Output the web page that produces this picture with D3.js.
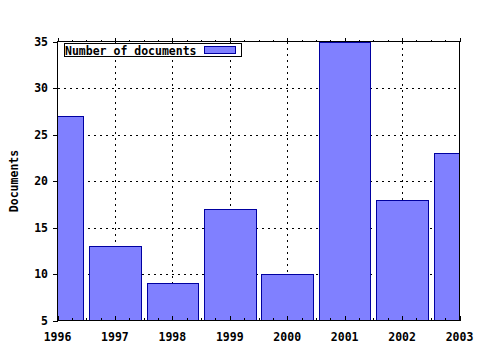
<!DOCTYPE html>
<html><head><meta charset="utf-8">
<script src="https://cdn.jsdelivr.net/npm/d3@7"></script>
<style>
html,body{margin:0;padding:0;background:#fff;}
text{font-family:"DejaVu Sans Mono",monospace;font-weight:bold;font-size:11.5px;fill:#000;}
</style></head>
<body>
<svg id="c" width="480" height="350"></svg>
<script>
const years = [1996, 1997, 1998, 1999, 2000, 2001, 2002, 2003];
const documents = [27, 13, 9, 17, 10, 35, 18, 23];
const yTicks = [5, 10, 15, 20, 25, 30, 35];
const seriesName = "Number of documents";
const yTitle = "Documents";

const svg = d3.select("#c");
const L = 57.5, R = 459.5, T = 41.5, B = 320.5;
const x = d3.scaleLinear().domain([1996, 2003]).range([L, R]);
const y = d3.scaleLinear().domain([5, 35]).range([B, T]);
const barW = 0.9;

svg.append("clipPath").attr("id", "clip").append("rect")
  .attr("x", L).attr("y", T).attr("width", R - L).attr("height", B - T);

// grid
const g = svg.append("g").attr("stroke", "#000").attr("stroke-dasharray", "2,4").attr("shape-rendering", "crispEdges");
years.slice(1, -1).forEach(v => g.append("line").attr("x1", Math.round(x(v)) + 0.5).attr("x2", Math.round(x(v)) + 0.5).attr("y1", T).attr("y2", B));
yTicks.slice(1, -1).forEach(v => g.append("line").attr("y1", Math.round(y(v)) + 0.5).attr("y2", Math.round(y(v)) + 0.5).attr("x1", L).attr("x2", R));

// bars
svg.append("g").attr("clip-path", "url(#clip)")
  .selectAll("rect").data(years).join("rect")
  .attr("x", (d) => Math.round(x(d - barW / 2)) + 0.5)
  .attr("width", (d) => Math.round(x(d + barW / 2)) - Math.round(x(d - barW / 2)))
  .attr("y", (d, i) => Math.round(y(documents[i])) + 0.5)
  .attr("height", (d, i) => Math.round(y(5)) - Math.round(y(documents[i])))
  .attr("fill", "#8080ff").attr("stroke", "#0000a0").attr("stroke-width", 1)
  .attr("shape-rendering", "crispEdges");

// ticks
const tk = svg.append("g").attr("stroke", "#000").attr("shape-rendering", "crispEdges");
const minor = d3.range(0, 7 * 4 + 1).map(i => 1996 + i / 4);
minor.forEach((v, i) => {
  const px = Math.round(x(v)) + 0.5;
  const len = (i % 4 === 0) ? 5 : 3;
  tk.append("line").attr("x1", px).attr("x2", px).attr("y1", B).attr("y2", B - len);
  tk.append("line").attr("x1", px).attr("x2", px).attr("y1", T).attr("y2", T - len + 1);
});
yTicks.forEach(v => {
  const py = Math.round(y(v)) + 0.5;
  tk.append("line").attr("x1", L - 5).attr("x2", L).attr("y1", py).attr("y2", py);
});

// border
svg.append("rect").attr("x", L).attr("y", T).attr("width", R - L).attr("height", B - T)
  .attr("fill", "none").attr("stroke", "#000").attr("shape-rendering", "crispEdges");

// labels
svg.append("g").selectAll("text").data(years).join("text")
  .attr("x", d => x(d)).attr("y", 341).attr("text-anchor", "middle").text(d => d);
svg.append("g").selectAll("text").data(yTicks).join("text")
  .attr("x", 48).attr("y", d => y(d) + 4).attr("text-anchor", "end").text(d => d);
svg.append("text").attr("transform", "translate(18,181) rotate(-90)")
  .attr("text-anchor", "middle").text(yTitle);

// legend
svg.append("rect").attr("x", 64.5).attr("y", 43.5).attr("width", 177).attr("height", 13)
  .attr("fill", "#fff").attr("stroke", "#000").attr("shape-rendering", "crispEdges");
svg.append("text").attr("x", 65).attr("y", 54.5).text(seriesName);
svg.append("rect").attr("x", 204.5).attr("y", 46.5).attr("width", 31).attr("height", 7)
  .attr("fill", "#8080ff").attr("stroke", "#0000a0").attr("shape-rendering", "crispEdges");
</script>
</body></html>
